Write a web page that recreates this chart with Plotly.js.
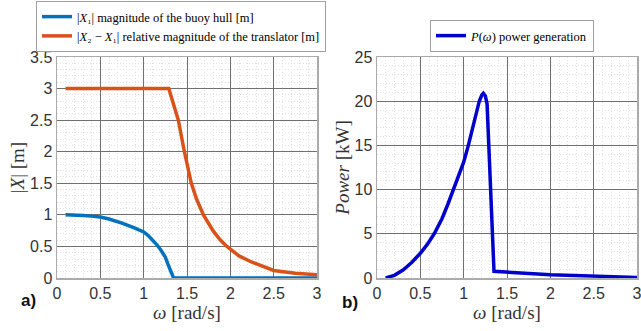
<!DOCTYPE html>
<html>
<head>
<meta charset="utf-8">
<script src="https://cdn.plot.ly/plotly-3.0.1.min.js"></script>
<style>html,body{margin:0;padding:0;background:#fff;}#chart{width:641px;height:331px;}</style>
</head>
<body>
<div id="chart"></div>
<script>
// Left panel: |X1| buoy hull magnitude
const omegaX1 = [0.1, 0.2, 0.3, 0.4, 0.5, 0.6, 0.75, 0.9, 1.0, 1.05, 1.1, 1.15, 1.2, 1.25, 1.28, 1.31, 1.345, 1.5, 2, 2.5, 3];
const magX1   = [1.0, 0.998, 0.99, 0.98, 0.965, 0.935, 0.87, 0.79, 0.73, 0.675, 0.61, 0.53, 0.44, 0.33, 0.22, 0.11, 0, 0, 0, 0, 0];
// Left panel: |X2 - X1| relative translator magnitude
const omegaX21 = [0.1, 1.29, 1.34, 1.40, 1.47, 1.55, 1.61, 1.69, 1.80, 1.88, 1.96, 2.1, 2.25, 2.5, 2.75, 3];
const magX21   = [3, 3, 2.77, 2.5, 2.0, 1.5, 1.25, 1.0, 0.75, 0.61, 0.5, 0.35, 0.25, 0.12, 0.075, 0.05];
// Right panel: power generation [kW]
const omegaP = [0.1, 0.2, 0.3, 0.4, 0.5, 0.58, 0.66, 0.75, 0.82, 0.88, 0.94, 1.0, 1.054, 1.1, 1.143, 1.18, 1.21, 1.227, 1.25, 1.27, 1.29, 1.31, 1.335, 1.35, 2.0, 2.5, 3];
const powerP = [0, 0.3, 0.9, 1.75, 2.8, 3.8, 5.0, 6.7, 8.4, 10, 11.6, 13.1, 15, 16.7, 18.4, 20, 20.7, 20.9, 20.6, 19.7, 15, 10, 5, 0.75, 0.37, 0.2, 0.07];

const legendNames = [
  '|<i>X</i>₁| magnitude of the buoy hull [m]',
  '|<i>X</i>₂ − <i>X</i>₁| relative magnitude of the translator [m]',
  '<i>P</i>(<i>ω</i>) power generation'
];
const xTickVals = [0, 0.5, 1, 1.5, 2, 2.5, 3];

const serif = 'Liberation Serif, DejaVu Serif, serif';
const sans = 'Liberation Sans, Arial, sans-serif';

const traces = [
  {x: omegaX1, y: magX1, type: 'scatter', mode: 'lines', name: legendNames[0],
   line: {color: '#0072BD', width: 3.5}, xaxis: 'x', yaxis: 'y', legend: 'legend'},
  {x: omegaX21, y: magX21, type: 'scatter', mode: 'lines', name: legendNames[1],
   line: {color: '#D95319', width: 3.5}, xaxis: 'x', yaxis: 'y', legend: 'legend'},
  {x: omegaP, y: powerP, type: 'scatter', mode: 'lines', name: legendNames[2],
   line: {color: '#0000CD', width: 3.5}, xaxis: 'x2', yaxis: 'y2', legend: 'legend2'}
];

const W = 641, H = 331;
const axCommon = {
  showgrid: true, gridcolor: '#707070', gridwidth: 1,
  showline: true, mirror: true, linecolor: '#ababab', linewidth: 1.5,
  ticks: '', zeroline: false, ticklabeloverflow: 'allow',
  tickfont: {family: sans, size: 16, color: '#333'},
  minor: {showgrid: true, gridcolor: '#e2e2e2', griddash: '1px,2px', gridwidth: 1}
};
const yDom = [(H - 278) / H, (H - 57) / H];
const titleFont = {family: serif, size: 19, color: '#333'};

const layout = {
  width: W, height: H,
  margin: {l: 0, r: 0, t: 0, b: 0},
  paper_bgcolor: '#fff', plot_bgcolor: '#fff',
  showlegend: true,
  xaxis: Object.assign({}, axCommon, {domain: [57 / W, 317 / W], range: [0, 3], tickvals: xTickVals,
    minor: Object.assign({}, axCommon.minor, {dtick: 0.1}),
    title: {text: '<i>ω</i> [rad/s]', font: titleFont, standoff: 2},
    anchor: 'y'}),
  yaxis: Object.assign({}, axCommon, {domain: yDom, range: [0, 3.5], dtick: 0.5,
    minor: Object.assign({}, axCommon.minor, {dtick: 0.1}),
    title: {text: '|<i>X</i>| [m]', font: titleFont, standoff: 0},
    anchor: 'x'}),
  xaxis2: Object.assign({}, axCommon, {domain: [377 / W, 637 / W], range: [0, 3], tickvals: xTickVals,
    minor: Object.assign({}, axCommon.minor, {dtick: 0.1}),
    title: {text: '<i>ω</i> [rad/s]', font: titleFont, standoff: 2},
    anchor: 'y2'}),
  yaxis2: Object.assign({}, axCommon, {domain: yDom, range: [0, 25], dtick: 5,
    minor: Object.assign({}, axCommon.minor, {dtick: 1}),
    title: {text: '<i>Power</i> [kW]', font: titleFont, standoff: 0},
    anchor: 'x2'}),
  legend: {x: 36 / W, y: 1 - 1 / H, xanchor: 'left', yanchor: 'top',
    bgcolor: '#fff', bordercolor: '#a0a0a0', borderwidth: 1,
    font: {family: serif, size: 12.5, color: '#000'}, itemwidth: 30, tracegroupgap: 0},
  legend2: {x: 430 / W, y: 1 - 20 / H, xanchor: 'left', yanchor: 'top',
    bgcolor: '#fff', bordercolor: '#a0a0a0', borderwidth: 1,
    font: {family: serif, size: 12.5, color: '#000'}, itemwidth: 30},
  annotations: [
    {text: '<b>a)</b>', x: 28 / W, y: 1 - 300 / H, xref: 'paper', yref: 'paper', showarrow: false,
     xanchor: 'center', yanchor: 'middle', font: {family: sans, size: 17, color: '#111'}},
    {text: '<b>b)</b>', x: 350 / W, y: 1 - 302 / H, xref: 'paper', yref: 'paper', showarrow: false,
     xanchor: 'center', yanchor: 'middle', font: {family: sans, size: 17, color: '#111'}}
  ]
};

Plotly.newPlot('chart', traces, layout, {displayModeBar: false, staticPlot: true});
</script>
</body>
</html>
